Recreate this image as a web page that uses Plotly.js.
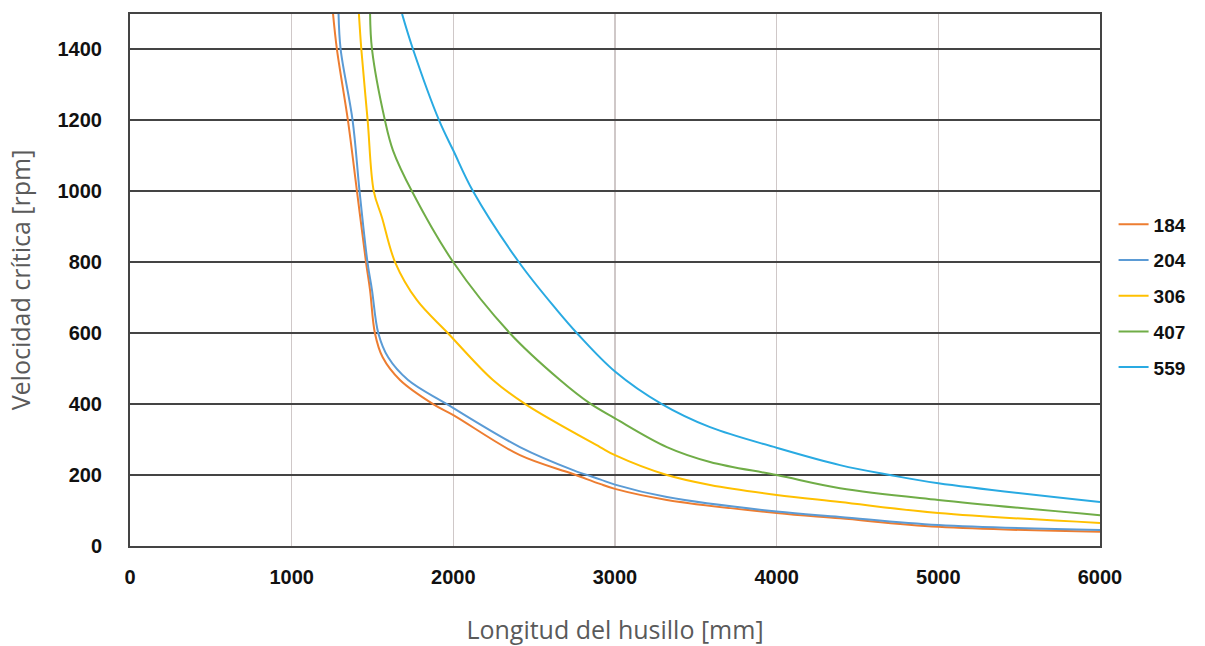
<!DOCTYPE html>
<html>
<head>
<meta charset="utf-8">
<script src="https://cdn.plot.ly/plotly-3.0.1.min.js"></script>
<style>html,body{margin:0;padding:0;background:#fff;}#chart{width:1205px;height:646px;}</style>
</head>
<body>
<div id="chart"></div>
<script>
const seriesNames = ['184', '204', '306', '407', '559'];
const seriesColors = ['#ED7D31', '#5B9BD5', '#FFC000', '#70AD47', '#29AAE2'];

const x184 = [1256, 1280, 1348, 1404, 1460, 1485, 1515, 1563, 1670, 1875, 2000, 2412, 2741, 2907, 3000, 3321, 4000, 4392, 5000, 6000];
const y184 = [1500, 1400, 1200, 1000, 800, 721, 600, 532, 468, 400, 369, 256, 203, 175, 161, 130, 93, 78, 54, 40];

const x204 = [1290, 1303, 1377, 1420, 1469, 1497, 1536, 1597, 1720, 1960, 2412, 2741, 2907, 3000, 3321, 4000, 4392, 5000, 6000];
const y204 = [1500, 1400, 1200, 1000, 800, 721, 600, 532, 468, 400, 279, 214, 188, 173, 138, 97, 82, 59, 45];

const x306 = [1416, 1431, 1470, 1508, 1558, 1640, 1775, 1967, 2245, 2455, 2907, 3000, 3321, 3588, 4000, 4392, 5000, 6000];
const y306 = [1500, 1400, 1200, 1000, 927, 800, 693, 600, 468, 397, 279, 256, 200, 172, 144, 124, 93, 65];

const x407 = [1485, 1497, 1577, 1627, 1744, 2000, 2350, 2660, 2845, 3000, 3321, 3588, 4000, 4392, 5000, 6000];
const y407 = [1500, 1400, 1200, 1115, 1000, 800, 600, 468, 402, 360, 279, 237, 200, 163, 130, 87];

const x559 = [1683, 1751, 1912, 2000, 2122, 2406, 2641, 2765, 3000, 3290, 3588, 4000, 4392, 4701, 5000, 6000];
const y559 = [1500, 1400, 1200, 1115, 1000, 800, 665, 600, 492, 400, 335, 277, 228, 200, 177, 124];

const xTicks = [0, 1000, 2000, 3000, 4000, 5000, 6000];
const yTicks = [0, 200, 400, 600, 800, 1000, 1200, 1400];

const xs = [x184, x204, x306, x407, x559];
const ys = [y184, y204, y306, y407, y559];

const traces = seriesNames.map((n, i) => ({
  type: 'scatter', mode: 'lines', name: n,
  x: xs[i], y: ys[i],
  legendgroup: 'g' + i,
  line: {color: seriesColors[i], width: 2, shape: 'spline', smoothing: 1},
  hoverinfo: 'x+y+name'
}));

const tickFont = {family: 'Liberation Sans, Arial, sans-serif', size: 20, color: '#111', weight: 'bold'};
const legendFont = {family: 'Liberation Sans, Arial, sans-serif', size: 19, color: '#111', weight: 'bold'};
const titleFont = {family: 'Open Sans, sans-serif', size: 25, color: '#5a5a5a', weight: 400};

const layout = {
  width: 1205, height: 646,
  margin: {l: 130, r: 105, t: 14, b: 100},
  paper_bgcolor: '#fff', plot_bgcolor: '#fff',
  showlegend: true,
  legend: {
    x: 1.014, xanchor: 'left', y: 0.47, yanchor: 'middle',
    font: legendFont, tracegroupgap: 8, traceorder: 'grouped',
    bgcolor: 'rgba(0,0,0,0)', itemwidth: 30
  },
  xaxis: {
    range: [0, 6000], tickvals: xTicks, ticktext: xTicks.map(String),
    showgrid: true, gridcolor: '#cfc8c8', gridwidth: 1.5,
    showline: true, linecolor: '#444', linewidth: 2, mirror: true,
    zeroline: false, ticks: '', ticklabelstandoff: 12,
    tickfont: tickFont,
    title: {text: 'Longitud del husillo [mm]', font: titleFont, standoff: 34}
  },
  yaxis: {
    range: [0, 1500], tickvals: yTicks, ticktext: yTicks.map(String),
    showgrid: true, gridcolor: '#444', gridwidth: 2,
    showline: true, linecolor: '#444', linewidth: 2, mirror: true,
    zeroline: false, ticks: '', ticklabelstandoff: 22,
    tickfont: tickFont,
    title: {text: 'Velocidad crítica [rpm]', font: titleFont, standoff: 20}
  }
};

Plotly.newPlot('chart', traces, layout, {displayModeBar: false, staticPlot: true});
</script>
</body>
</html>
